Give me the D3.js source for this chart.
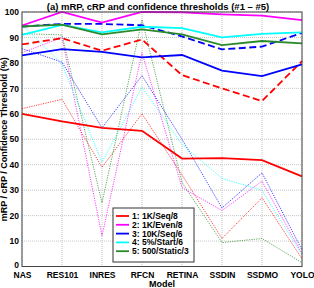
<!DOCTYPE html>
<html>
<head>
<meta charset="utf-8">
<script src="https://cdn.jsdelivr.net/npm/d3@7"></script>
<style>
  body { margin: 0; background: #fff; }
  text { font-family: "Liberation Sans", Arial, Helvetica, sans-serif; font-weight: bold; }
</style>
</head>
<body>
<div id="chart"></div>
<script>
var svgWidth = 314;
var svgHeight = 288;

var margin = { top: 12, right: 12, bottom: 21.5, left: 22 };
var width = svgWidth - margin.left - margin.right;
var height = svgHeight - margin.top - margin.bottom;

// categories and tick labels
var models = ["NAS", "RES101", "INRES", "RFCN", "RETINA", "SSDIN", "SSDMO", "YOLO"];
var yTicks = [0, 10, 20, 30, 40, 50, 60, 70, 80, 90, 100];
var legendLabels = ["1: 1K/Seq/8", "2: 1K/Even/8", "3: 10K/Seq/6", "4: 5%/Start/6", "5: 500/Static/3"];
var colors = ["#ff0000", "#ff00ff", "#0000ff", "#00ffff", "#2a8a2a"];

// solid lines
var solid1 = [60, 57, 54.5, 53.3, 42.4, 42.6, 41.8, 35.4];
var solid2 = [94.7, 100, 95.8, 100, 99.9, 99.1, 98.6, 96.8];
var solid3 = [83, 85.4, 84.3, 82.2, 83.1, 77, 74.8, 79.4];
var solid4 = [91, 94.9, 92, 94.2, 93.7, 90, 91.4, 92];
var solid5 = [94.3, 95, 91.2, 93.2, 91.2, 87, 88.6, 87.7];

// dashed lines
var dashed1 = [87.3, 89.7, 84.8, 89.2, 75.2, 70, 65, 80.7];
var dashed3 = [94.3, 95.3, 95.3, 94.8, 90.4, 85.3, 86.4, 91.8];

// dotted lines (confidence thresholds)
var dotted1 = [62, 65.7, 39, 60, 36, 11, 27, 3];
var dotted2 = [84, 90, 12, 84, 31, 22, 33.5, 5];
var dotted3 = [85.6, 80.3, 54.5, 75, 50, 23, 36.8, 6.5];
var dotted4 = [95, 79.5, 41, 70.5, 48, 34.6, 30, 4.5];
var dotted5 = [91.5, 91, 25, 97, 33, 9.4, 11, 1.5];

var svg = d3.select("#chart")
  .append("svg")
  .attr("width", svgWidth)
  .attr("height", svgHeight);

var chartGroup = svg.append("g")
  .attr("transform", `translate(${margin.left}, ${margin.top})`);

var xScale = d3.scalePoint()
  .domain(models)
  .range([0, width]);

var yScale = d3.scaleLinear()
  .domain([0, 100])
  .range([height, 0]);

// grid
chartGroup.append("g")
  .selectAll("line")
  .data(yTicks)
  .enter()
  .append("line")
  .attr("x1", 0).attr("x2", width)
  .attr("y1", d => yScale(d)).attr("y2", d => yScale(d))
  .attr("stroke", "#bdbdbd").attr("stroke-width", 0.9).attr("stroke-dasharray", "1,1");

chartGroup.append("g")
  .selectAll("line")
  .data(models)
  .enter()
  .append("line")
  .attr("x1", d => xScale(d)).attr("x2", d => xScale(d))
  .attr("y1", 0).attr("y2", height)
  .attr("stroke", "#bdbdbd").attr("stroke-width", 0.9).attr("stroke-dasharray", "1,1");

var line = d3.line()
  .x((d, i) => xScale(models[i]))
  .y(d => yScale(d));

// dotted threshold lines
[dotted1, dotted2, dotted3, dotted4, dotted5].forEach(function(vals, i) {
  chartGroup.append("path")
    .datum(vals)
    .attr("d", line)
    .attr("fill", "none")
    .attr("stroke", colors[i])
    .attr("stroke-opacity", 0.75)
    .attr("stroke-width", 1)
    .attr("stroke-dasharray", "1.2,1.2");
});

// dashed lines
[[dashed1, 0], [dashed3, 2]].forEach(function(p) {
  chartGroup.append("path")
    .datum(p[0])
    .attr("d", line)
    .attr("fill", "none")
    .attr("stroke", colors[p[1]])
    .attr("stroke-width", 1.8)
    .attr("stroke-dasharray", "7,3.5");
});

// solid lines
[solid1, solid2, solid3, solid4, solid5].forEach(function(vals, i) {
  chartGroup.append("path")
    .datum(vals)
    .attr("d", line)
    .attr("fill", "none")
    .attr("stroke", colors[i])
    .attr("stroke-width", 1.8);
});

// axes
var bottomAxis = d3.axisBottom(xScale).tickSize(0).tickPadding(5);
var leftAxis = d3.axisLeft(yScale).tickValues(yTicks).tickSize(0).tickPadding(3);

var xAxisG = chartGroup.append("g")
  .attr("transform", `translate(0, ${height})`)
  .call(bottomAxis);
xAxisG.selectAll("text").attr("font-size", 8.5).attr("fill", "#000");

var yAxisG = chartGroup.append("g")
  .call(leftAxis);
yAxisG.selectAll("text").attr("font-size", 8.5).attr("fill", "#000");
yAxisG.selectAll("text").filter(d => d === 0).attr("dy", "0.1em");

chartGroup.selectAll(".domain").remove();

// box
chartGroup.append("rect")
  .attr("width", width).attr("height", height)
  .attr("fill", "none").attr("stroke", "#444").attr("stroke-width", 1);

// legend
var legend = chartGroup.append("g")
  .attr("transform", "translate(91, 196)");
legend.append("rect")
  .attr("width", 81).attr("height", 54)
  .attr("fill", "#fff").attr("stroke", "#333").attr("stroke-width", 1);
legendLabels.forEach(function(lbl, i) {
  var y = 8 + i * 8.8;
  legend.append("line")
    .attr("x1", 3).attr("x2", 16).attr("y1", y).attr("y2", y)
    .attr("stroke", colors[i]).attr("stroke-width", 1.8);
  legend.append("text")
    .attr("x", 19).attr("y", y + 3)
    .attr("font-size", 8.5)
    .text(lbl);
});

// title
svg.append("text")
  .attr("x", 158).attr("y", 9.5)
  .attr("text-anchor", "middle")
  .attr("font-size", 9.5)
  .text("(a) mRP, cRP and confidence thresholds (#1 \u2013 #5)");

// axis labels
svg.append("text")
  .attr("transform", `translate(7, ${margin.top + height / 2}) rotate(-90)`)
  .attr("text-anchor", "middle")
  .attr("font-size", 9)
  .text("mRP / cRP / Confidence Threshold (%)");

svg.append("text")
  .attr("x", margin.left + width / 2).attr("y", 287)
  .attr("text-anchor", "middle")
  .attr("font-size", 9)
  .text("Model");
</script>
</body>
</html>
